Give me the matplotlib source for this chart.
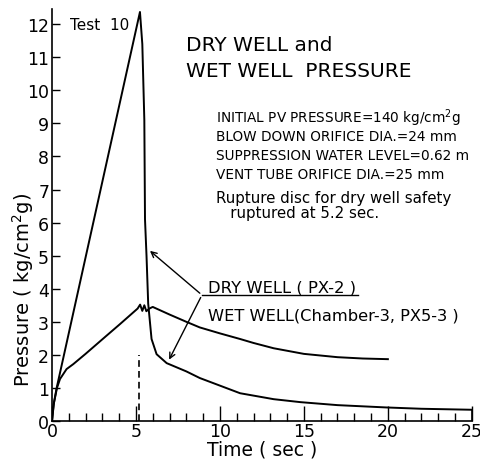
import matplotlib
matplotlib.use('Agg')
import matplotlib.pyplot as plt

# pressure traces, test 10
dry_t = [0, 0.1, 0.28, 5.24, 5.38, 5.5, 5.54, 5.63, 5.73,
         5.93, 6.23, 6.83, 8.0, 8.8, 10.0, 11.2, 13.2, 14.8, 17.0, 19.9, 22.0, 25.0]
dry_p = [0, 0.5, 1.0, 12.37, 11.4, 9.1, 6.1, 5.0, 3.55,
         2.48, 2.02, 1.75, 1.5, 1.3, 1.07, 0.84, 0.66, 0.57, 0.48, 0.41, 0.37, 0.34]

wet_t = [0, 0.12, 0.3, 0.48, 0.87, 1.27, 2.0, 3.25, 4.05, 5.1, 5.25, 5.38, 5.5, 5.62,
         5.8, 6.0, 7.0, 8.0, 8.8, 10.0, 11.2, 12.0, 13.2, 15.0, 17.0, 18.5, 20.0]
wet_p = [0, 0.55, 1.0, 1.27, 1.57, 1.72, 2.03, 2.58, 2.93, 3.40, 3.52, 3.33, 3.5, 3.32,
         3.40, 3.45, 3.22, 3.0, 2.83, 2.65, 2.48, 2.36, 2.2, 2.03, 1.93, 1.89, 1.87]

rupture_t = 5.2
rupture_mark = 2.0

conditions = ['INITIAL PV PRESSURE=140 kg/cm$^2$g',
              'BLOW DOWN ORIFICE DIA.=24 mm',
              'SUPPRESSION WATER LEVEL=0.62 m',
              'VENT TUBE ORIFICE DIA.=25 mm']
note = ['Rupture disc for dry well safety', '   ruptured at 5.2 sec.']

plt.rcParams['font.family'] = 'DejaVu Sans'
plt.rcParams['mathtext.fontset'] = 'dejavusans'

fig = plt.figure(figsize=(4.81, 4.60), dpi=100)
ax = fig.add_axes([0.108, 0.0826, 0.873, 0.895])

ax.plot(dry_t, dry_p, 'k-', lw=1.4)
ax.plot(wet_t, wet_p, 'k-', lw=1.4)
ax.plot([rupture_t, rupture_t], [0, rupture_mark], 'k--', lw=1.2, dashes=(4, 2.5))
ax.plot([25, 25], [0, dry_p[-1]], 'k-', lw=1.2)

ax.set_xlim(0, 25)
ax.set_ylim(0, 12.45)
for s in ['top', 'right']:
    ax.spines[s].set_visible(False)
for s in ['left', 'bottom']:
    ax.spines[s].set_linewidth(1.2)

ax.set_xticks([0, 5, 10, 15, 20, 25])
ax.set_xticks(range(0, 26), minor=True)
ax.set_yticks(range(0, 13))
ax.tick_params(axis='x', which='major', direction='in', length=11, width=1, labelsize=12.5, pad=1)
ax.tick_params(axis='x', which='minor', direction='in', length=6, width=1)
ax.tick_params(axis='y', which='major', direction='in', length=6, width=1, labelsize=12.5, pad=2)

ax.set_xlabel('Time ( sec )', fontsize=13.5, labelpad=-1)
ax.set_ylabel('Pressure ( kg/cm$^2$g)', fontsize=14)
ax.yaxis.set_label_coords(-0.037, 0.32)

ax.text(1.1, 12.0, 'Test  10', fontsize=11, va='center')
ax.text(8.0, 11.39, 'DRY WELL and', fontsize=14.5, va='center')
ax.text(8.0, 10.6, 'WET WELL  PRESSURE', fontsize=14.5, va='center')
for i, line in enumerate(conditions):
    ax.text(9.75, 9.2 - i * 0.58, line, fontsize=9.8, va='center')
for i, line in enumerate(note):
    ax.text(9.75, 6.77 - i * 0.46, line, fontsize=10.8, va='center')

# series labels with leader arrows
ax.text(9.3, 4.05, 'DRY WELL ( PX-2 )', fontsize=11.8, va='center')
ax.text(9.3, 3.22, 'WET WELL(Chamber-3, PX5-3 )', fontsize=11.7, va='center')
ax.plot([8.93, 18.2], [3.81, 3.81], 'k-', lw=1)
ax.annotate('', xy=(5.71, 5.2), xytext=(8.93, 3.81),
            arrowprops=dict(arrowstyle='->', lw=1, color='k'))
ax.annotate('', xy=(6.9, 1.78), xytext=(8.93, 3.81),
            arrowprops=dict(arrowstyle='->', lw=1, color='k'))

fig.savefig('out.png', dpi=100)
